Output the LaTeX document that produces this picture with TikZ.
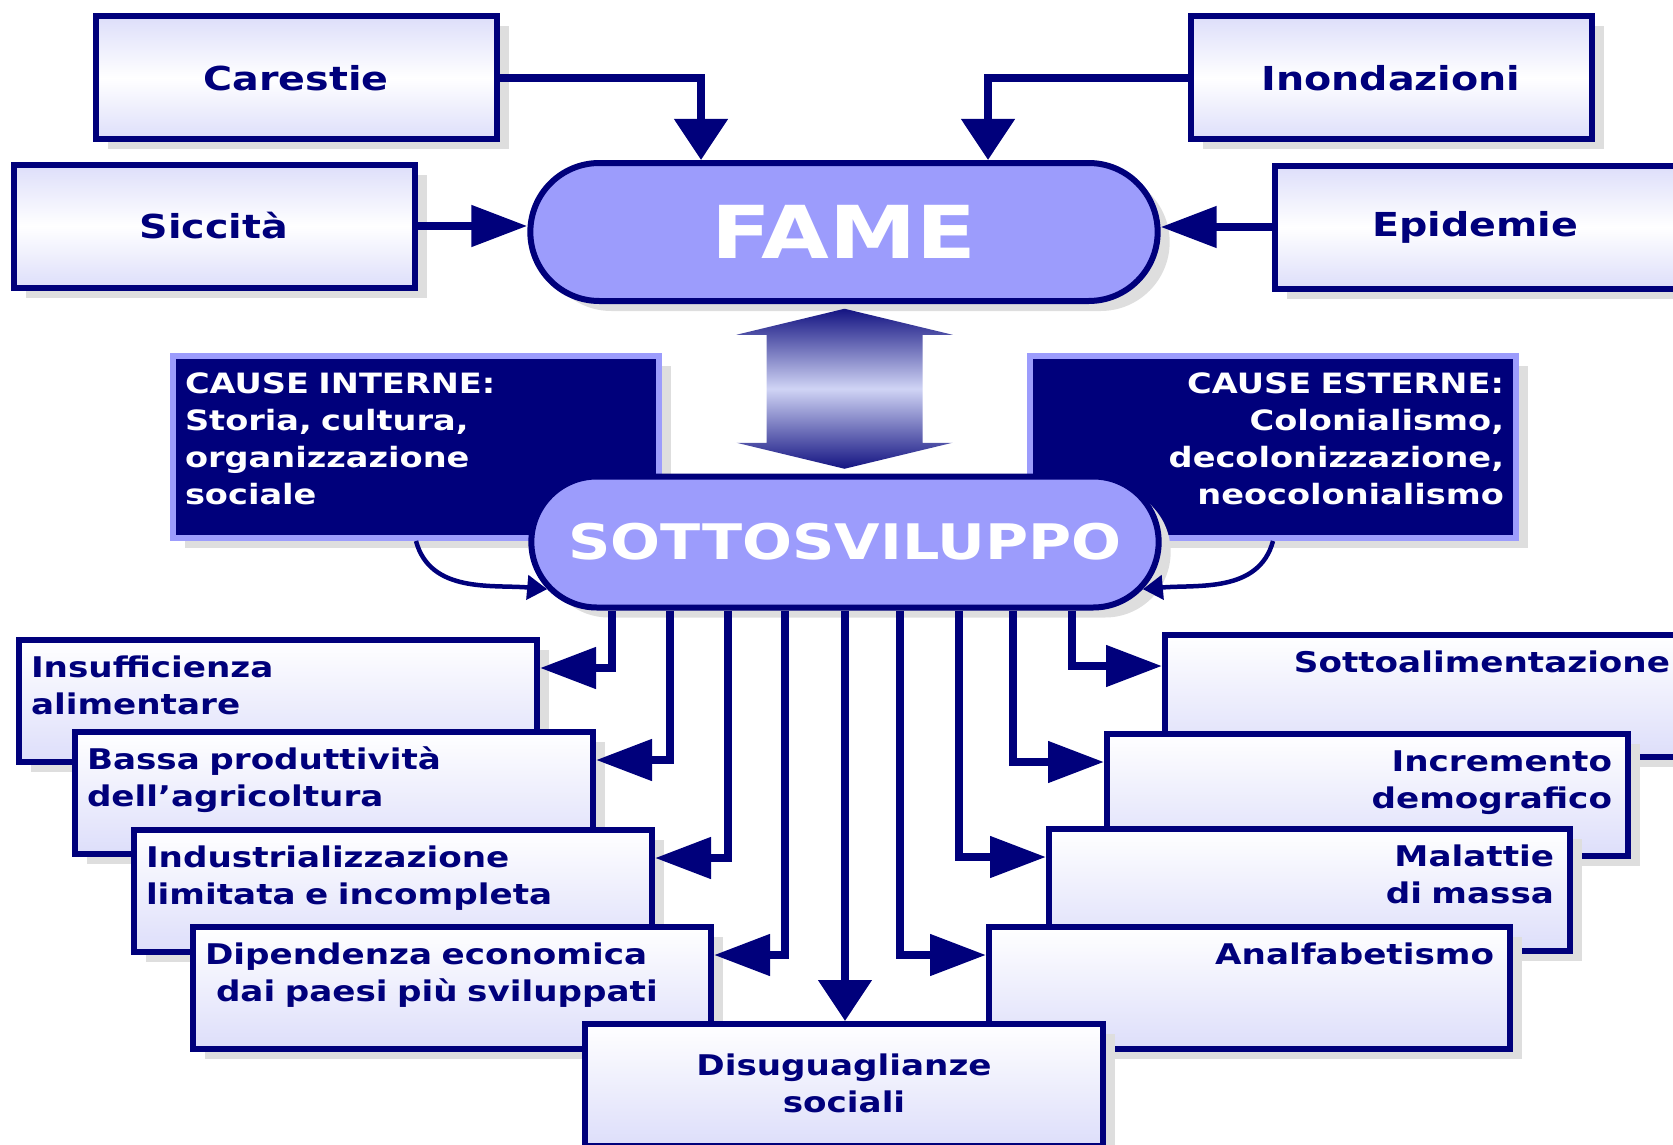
\documentclass[tikz,border=0pt]{standalone}
\usepackage{fontspec}
\setmainfont{DejaVu Sans}[FakeStretch=1.2]
\usepackage{tikz}
\usetikzlibrary{arrows.meta}
\usetikzlibrary{shapes.misc}
\usetikzlibrary{shadows}
\usetikzlibrary{calc}
\usepackage{xcolor}
\definecolor{navy}{RGB}{0,0,123}
\definecolor{peri}{RGB}{156,156,252}
\definecolor{lav}{RGB}{221,222,250}
\definecolor{ashen}{RGB}{222,222,222}
\definecolor{deep}{RGB}{20,20,130}
\definecolor{pale}{RGB}{208,212,245}

\begin{document}
\begin{tikzpicture}[x=1pt, y=1pt]
    \tikzset{Box/.style={rectangle, draw=navy, line width=6pt, text=navy, drop shadow={shadow xshift=12pt, shadow yshift=-10pt, fill=ashen, opacity=1}}};
    \tikzset{TopBox/.style={Box, top color=lav, bottom color=lav, middle color=white, minimum width=401pt, minimum height=123pt, font=\bfseries\fontsize{33}{40}\selectfont}};
    \tikzset{LowBox/.style={Box, anchor=north west, top color=white, bottom color=lav, inner ysep=0pt, text height=37pt, text depth=85pt, font=\bfseries\fontsize{28.5}{37}\selectfont}};
    \tikzset{LeftBox/.style={LowBox, text width=494pt, inner xsep=12pt, align=left}};
    \tikzset{RightBox/.style={LowBox, text width=489pt, inner xsep=16pt, align=right}};
    \tikzset{Cause/.style={Box, fill=navy, draw=peri, text=white, text width=462pt, inner xsep=12pt, inner ysep=0pt, text height=37pt, text depth=145pt, font=\bfseries\fontsize{28}{37}\selectfont}};
    \tikzset{Core/.style={Box, rounded rectangle, fill=peri, text=white, minimum width=634pt}};
    \tikzset{Link/.style={draw=navy, line width=8pt}};
    \tikzset{HArrow/.style={Link, -{Triangle[length=56pt, width=40pt]}}};
    \tikzset{VArrow/.style={Link, -{Triangle[length=41pt, width=52pt]}}};
    \tikzset{Bend/.style={draw=navy, line width=4.5pt, -{Triangle[length=20pt, width=24pt]}}};

    \useasboundingbox (0,0) rectangle (1673,-1145);
    \clip (0,0) rectangle (1673,-1145);

    \node[TopBox] (car) at (296,-78) {Carestie};
    \node[TopBox] (ino) at (1391,-78) {Inondazioni};
    \node[TopBox] (sic) at (214,-226) {Siccità};
    \node[TopBox] (epi) at (1475,-227) {Epidemie};
    \node[Core, minimum height=138pt, font=\bfseries\fontsize{73}{80}\selectfont] (fame) at (844,-232) {FAME};

    \draw[VArrow] (car.east) -| ([xshift=-143pt]fame.north);
    \draw[VArrow] (ino.west) -| ([xshift=144pt]fame.north);
    \draw[HArrow] (sic.east) -- (sic.east -| fame.west);
    \draw[HArrow] (epi.west) -- (epi.west -| fame.east);

    \node[Cause, align=left] (ci) at (416,-447) {CAUSE INTERNE:\\Storia, cultura,\\organizzazione\\sociale};
    \node[Cause, align=right] (ce) at (1273,-447) {CAUSE ESTERNE:\\Colonialismo,\\decolonizzazione,\\neocolonialismo};
    \node[Core, minimum height=131pt, font=\bfseries\fontsize{49}{55}\selectfont] (sotto) at (845,-542) {SOTTOSVILUPPO};

    \coordinate (m) at ($(fame.south)!0.5!(sotto.north)$);
    \shade[top color=deep, bottom color=deep, middle color=pale] ([yshift=80pt]m) --++(108,-26) --++(-30,0) --++(0,-108) --++(30,0) --([yshift=-80pt]m) --++(-108,26) --++(30,0) --++(0,108) --++(-30,0) --cycle;

    \draw[Bend] (ci.south) to[out=-75, in=175] (sotto.189);
    \draw[Bend] (ce.south) to[out=-105, in=5] (sotto.351);

    \node[LeftBox] (ins) at (16,-637) {Insufficienza\\alimentare};
    \node[LeftBox] (bas) at (72,-729) {Bassa produttività\\dell'agricoltura};
    \node[LeftBox] (ind) at (131,-827) {Industrializzazione\\limitata e incompleta};
    \node[LeftBox] (dip) at (190,-924) {Dipendenza economica\\\hspace*{11pt}dai paesi più sviluppati};
    \node[RightBox] (sot) at (1162,-632) {Sottoalimentazione};
    \node[RightBox] (inc) at (1104,-731) {Incremento\\demografico};
    \node[RightBox] (mal) at (1046,-826) {Malattie\\di massa};
    \node[RightBox] (ana) at (986,-924) {Analfabetismo};
    \node[LowBox, text width=494pt, inner xsep=12pt, align=center, text height=51pt, text depth=71pt] (dis) at (582,-1021) {Disuguaglianze\\sociali};

    \draw[HArrow] ([xshift=-233pt]sotto.south) |- ([yshift=-31pt]ins.north east);
    \draw[HArrow] ([xshift=-175pt]sotto.south) |- ([yshift=-31pt]bas.north east);
    \draw[HArrow] ([xshift=-117pt]sotto.south) |- ([yshift=-31pt]ind.north east);
    \draw[HArrow] ([xshift=-60pt]sotto.south) |- ([yshift=-31pt]dip.north east);
    \draw[VArrow] (sotto.south) -- (sotto.south |- dis.north);
    \draw[HArrow] ([xshift=55pt]sotto.south) |- ([yshift=-31pt]ana.north west);
    \draw[HArrow] ([xshift=114pt]sotto.south) |- ([yshift=-31pt]mal.north west);
    \draw[HArrow] ([xshift=168pt]sotto.south) |- ([yshift=-31pt]inc.north west);
    \draw[HArrow] ([xshift=227pt]sotto.south) |- ([yshift=-34pt]sot.north west);
\end{tikzpicture}
\end{document}
